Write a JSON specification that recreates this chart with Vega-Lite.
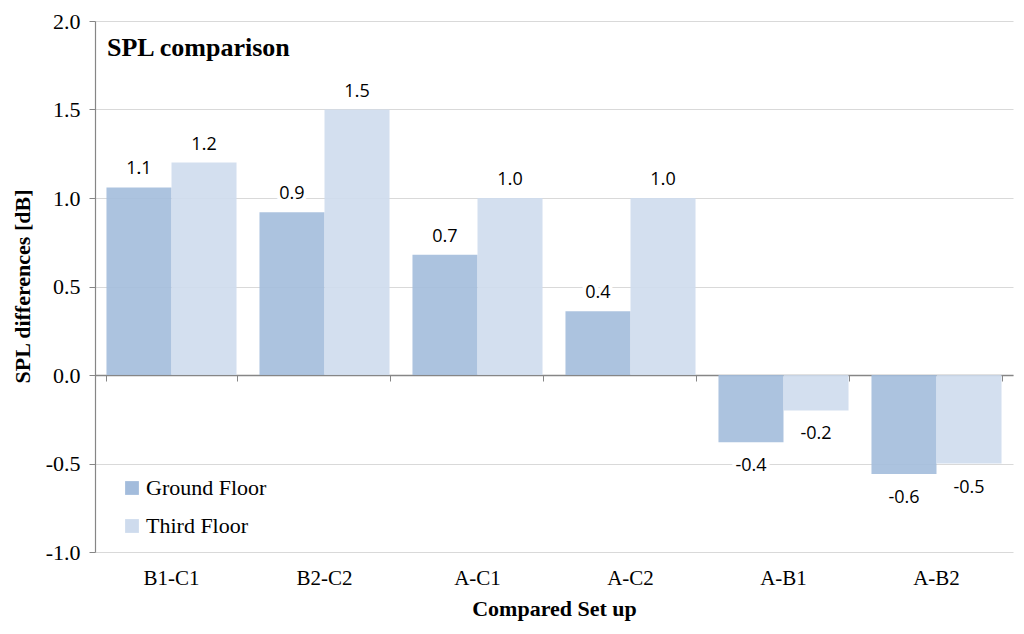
{
  "$schema": "https://vega.github.io/schema/vega-lite/v6.json",
  "width": 918,
  "height": 531,
  "autosize": {"type": "none"},
  "padding": {"left": 95, "top": 21, "right": 11, "bottom": 82},
  "background": "white",
  "title": {
    "text": "SPL comparison",
    "anchor": "start",
    "frame": "group",
    "font": "Liberation Serif",
    "fontSize": 26,
    "fontWeight": "bold",
    "color": "#000000",
    "baseline": "alphabetic",
    "offset": 0,
    "dy": 72,
    "dx": 12
  },
  "data": {
    "values": [
      {"setup": "B1-C1", "floor": "Ground Floor", "value": 1.06, "label": "1.1"},
      {"setup": "B1-C1", "floor": "Third Floor", "value": 1.2, "label": "1.2"},
      {"setup": "B2-C2", "floor": "Ground Floor", "value": 0.92, "label": "0.9"},
      {"setup": "B2-C2", "floor": "Third Floor", "value": 1.5, "label": "1.5"},
      {"setup": "A-C1", "floor": "Ground Floor", "value": 0.68, "label": "0.7"},
      {"setup": "A-C1", "floor": "Third Floor", "value": 1.0, "label": "1.0"},
      {"setup": "A-C2", "floor": "Ground Floor", "value": 0.36, "label": "0.4"},
      {"setup": "A-C2", "floor": "Third Floor", "value": 1.0, "label": "1.0"},
      {"setup": "A-B1", "floor": "Ground Floor", "value": -0.38, "label": "-0.4"},
      {"setup": "A-B1", "floor": "Third Floor", "value": -0.2, "label": "-0.2"},
      {"setup": "A-B2", "floor": "Ground Floor", "value": -0.56, "label": "-0.6"},
      {"setup": "A-B2", "floor": "Third Floor", "value": -0.5, "label": "-0.5"}
    ]
  },
  "encoding": {
    "x": {
      "field": "setup",
      "type": "nominal",
      "sort": ["B1-C1", "B2-C2", "A-C1", "A-C2", "A-B1", "A-B2"],
      "scale": {"paddingInner": 0.15, "paddingOuter": 0.075},
      "axis": null
    },
    "xOffset": {"field": "floor", "type": "nominal", "sort": ["Ground Floor", "Third Floor"]},
    "y": {
      "field": "value",
      "type": "quantitative",
      "scale": {"domain": [-1, 2], "nice": false, "zero": false},
      "axis": {
        "title": "SPL differences [dB]",
        "values": [-1, -0.5, 0, 0.5, 1, 1.5, 2],
        "labelExpr": "replace(format(datum.value, '.1f'), '−', '-')",
        "grid": true,
        "gridColor": "#d9d9d9",
        "gridWidth": 1.2,
        "domainColor": "#868686",
        "domainWidth": 1.2,
        "tickColor": "#868686",
        "tickSize": 6,
        "labelPadding": 9,
        "labelFont": "Liberation Serif",
        "labelFontSize": 22,
        "labelColor": "#000000",
        "titleFont": "Liberation Serif",
        "titleFontSize": 22,
        "titleFontWeight": "bold",
        "titleColor": "#000000",
        "titleX": -73,
        "titleY": 265,
        "titleBaseline": "middle"
      }
    }
  },
  "layer": [
    {
      "mark": {"type": "bar", "fillOpacity": 0.9},
      "encoding": {
        "x": {
          "field": "setup",
          "type": "nominal",
          "sort": ["B1-C1", "B2-C2", "A-C1", "A-C2", "A-B1", "A-B2"],
          "scale": {"paddingInner": 0.15, "paddingOuter": 0.075},
          "axis": {
            "title": "Compared Set up",
            "orient": "bottom",
            "labelAngle": 0,
            "domain": false,
            "ticks": false,
            "grid": false,
            "labelFont": "Liberation Serif",
            "labelFontSize": 21,
            "labelColor": "#000000",
            "labelPadding": 15,
            "titleFont": "Liberation Serif",
            "titleFontSize": 22,
            "titleFontWeight": "bold",
            "titleColor": "#000000",
            "titleY": 56,
            "titleBaseline": "middle"
          }
        },
        "color": {
          "field": "floor",
          "type": "nominal",
          "scale": {"domain": ["Ground Floor", "Third Floor"], "range": ["#a3bcdc", "#cedbed"]},
          "legend": {
            "title": null,
            "orient": "none",
            "legendX": 26,
            "legendY": 456,
            "symbolType": "square",
            "symbolSize": 190,
            "symbolStrokeWidth": 0,
            "symbolOpacity": 1,
            "labelFont": "Liberation Serif",
            "labelFontSize": 22,
            "labelColor": "#000000",
            "labelOffset": 3,
            "rowPadding": 16
          }
        }
      }
    },
    {
      "transform": [{"filter": "datum.value >= 0"}],
      "mark": {"type": "text", "baseline": "bottom", "dy": -9, "font": "Open Sans", "fontSize": 18, "stroke": "white", "strokeWidth": 8, "strokeJoin": "round"},
      "encoding": {"text": {"field": "label"}}
    },
    {
      "transform": [{"filter": "datum.value < 0"}],
      "mark": {"type": "text", "baseline": "top", "dy": 15, "font": "Open Sans", "fontSize": 18, "stroke": "white", "strokeWidth": 8, "strokeJoin": "round"},
      "encoding": {"text": {"field": "label"}}
    },
    {
      "transform": [{"filter": "datum.value >= 0"}],
      "mark": {"type": "text", "baseline": "bottom", "dy": -9, "font": "Open Sans", "fontSize": 18, "color": "#000000"},
      "encoding": {"text": {"field": "label"}}
    },
    {
      "transform": [{"filter": "datum.value < 0"}],
      "mark": {"type": "text", "baseline": "top", "dy": 15, "font": "Open Sans", "fontSize": 18, "color": "#000000"},
      "encoding": {
        "text": {"field": "label"},
        "x": {
          "field": "setup",
          "type": "nominal",
          "sort": ["B1-C1", "B2-C2", "A-C1", "A-C2", "A-B1", "A-B2"],
          "scale": {"paddingInner": 0.15, "paddingOuter": 0.075},
          "axis": {
            "title": null,
            "orient": "bottom",
            "labels": false,
            "offset": -177,
            "domain": true,
            "domainColor": "#868686",
            "domainWidth": 1.5,
            "ticks": true,
            "tickBand": "extent",
            "tickColor": "#868686",
            "tickSize": 6,
            "grid": false
          }
        }
      }
    }
  ],
  "resolve": {"axis": {"x": "independent"}},
  "config": {
    "view": {"stroke": null},
    "axis": {"labelFont": "Liberation Serif", "titleFont": "Liberation Serif"},
    "legend": {"labelFont": "Liberation Serif"}
  }
}
